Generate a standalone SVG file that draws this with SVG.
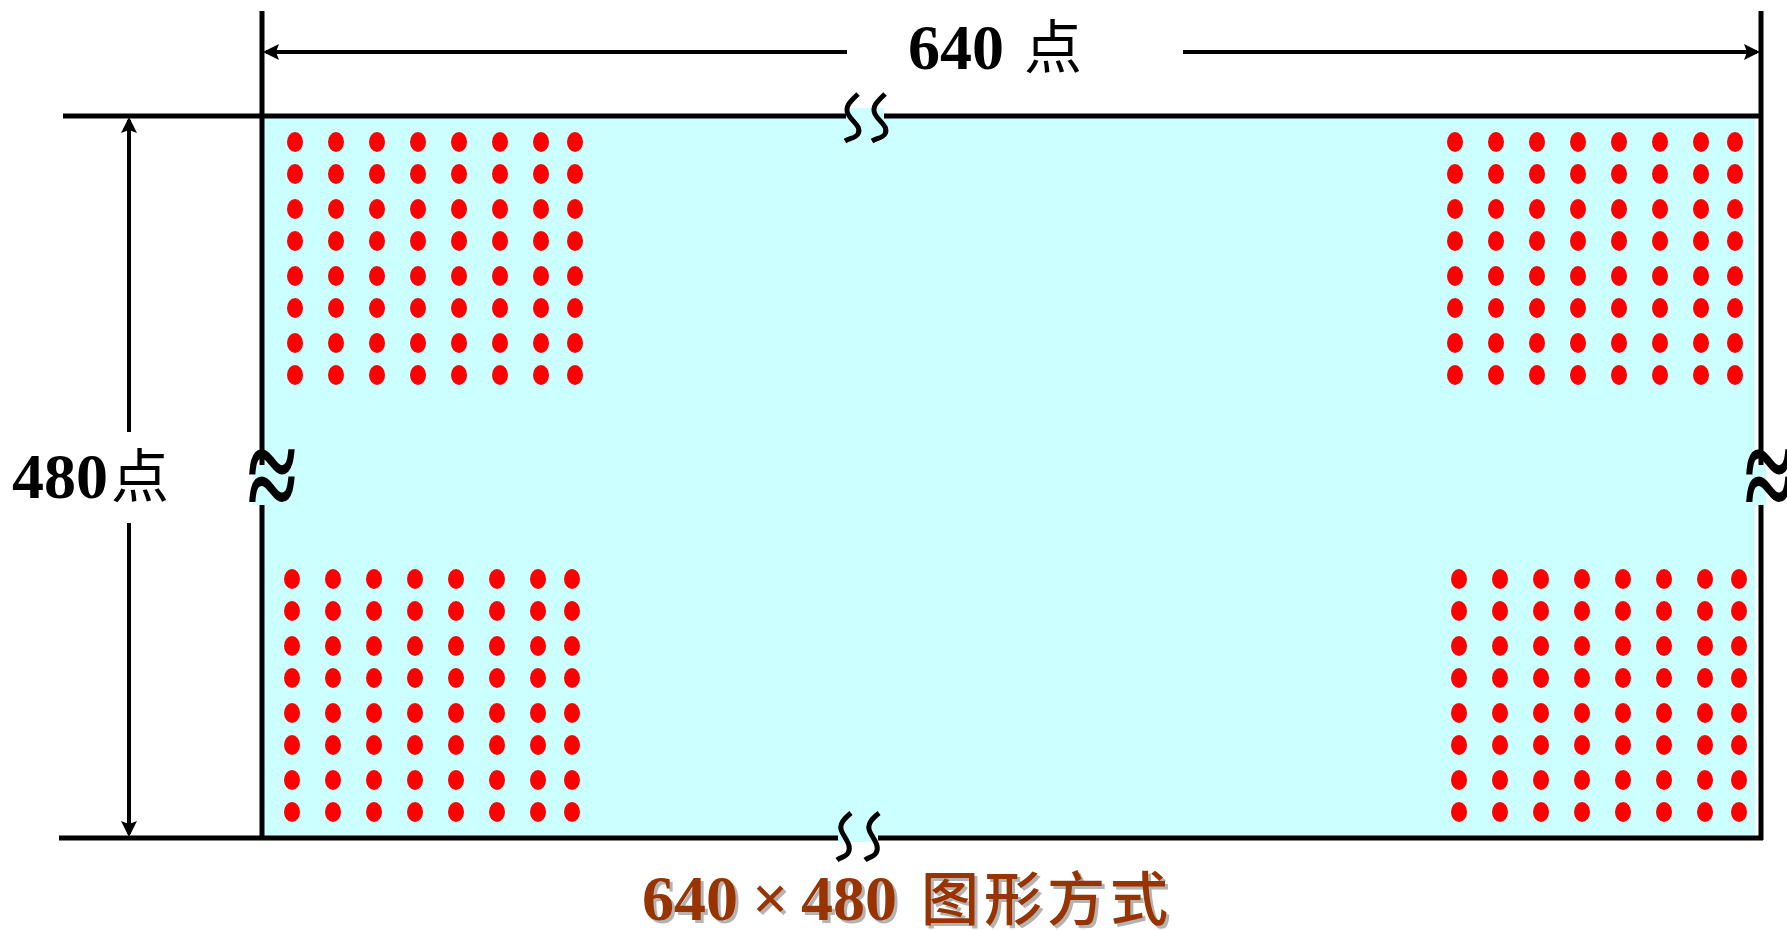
<svg xmlns="http://www.w3.org/2000/svg" xmlns:xlink="http://www.w3.org/1999/xlink" width="1787" height="930" viewBox="0 0 1787 930">
<style>
.ln{stroke:#000;stroke-width:5;fill:none}
.dim{stroke:#000;stroke-width:4;fill:none}
.sq{stroke:#000;stroke-width:5;fill:none;stroke-linecap:butt}
.lbl{font-family:"Liberation Serif","Noto Sans CJK SC",serif;font-weight:bold;font-size:64px;fill:#000}
.cjk{font-family:"Noto Sans CJK SC","Liberation Serif",sans-serif;font-weight:normal;font-size:58px}
.tt{font-family:"Liberation Serif","Noto Sans CJK SC",serif;font-weight:bold;font-size:64px;fill:#993300}
.tc{font-family:"Noto Sans CJK SC","Liberation Serif",sans-serif;font-weight:500;font-size:58px}
.sh{fill:#B3B3B3}
.ap{font-family:"Liberation Serif",serif;font-weight:bold;font-size:90px;fill:#000}
</style>
<defs>
<marker id="ah" viewBox="0 0 16 16" refX="13" refY="8" markerWidth="16" markerHeight="16" markerUnits="userSpaceOnUse" orient="auto"><path d="M0,0 L16,8 L0,16 L3,8 z" fill="#000"/></marker>
<g id="row" fill="#FF0000">
<ellipse cx="0" cy="0" rx="8" ry="10"/><ellipse cx="41" cy="0" rx="8" ry="10"/><ellipse cx="82" cy="0" rx="8" ry="10"/><ellipse cx="123" cy="0" rx="8" ry="10"/><ellipse cx="164" cy="0" rx="8" ry="10"/><ellipse cx="205" cy="0" rx="8" ry="10"/><ellipse cx="246" cy="0" rx="8" ry="10"/><ellipse cx="280" cy="0" rx="8" ry="10"/>
</g>
<g id="blk">
<use href="#row" y="0"/><use href="#row" y="32"/><use href="#row" y="67"/><use href="#row" y="99"/><use href="#row" y="134"/><use href="#row" y="166"/><use href="#row" y="201"/><use href="#row" y="233"/>
</g>
</defs>
<rect width="1787" height="930" fill="#FFFFFF"/>
<g id="screen">
<rect x="264" y="118" width="1491" height="718" fill="#CCFFFF"/>
<line class="ln" x1="262" y1="11" x2="262" y2="840"/>
<line class="ln" x1="1761" y1="11" x2="1761" y2="840"/>
<line class="ln" x1="63" y1="116" x2="1763" y2="116"/>
<line class="ln" x1="59" y1="838" x2="1763" y2="838"/>
</g>
<g id="dots-top-left"><use href="#blk" x="295" y="142"/></g>
<g id="dots-top-right"><use href="#blk" x="1455" y="142"/></g>
<g id="dots-bottom-left"><use href="#blk" x="292" y="579"/></g>
<g id="dots-bottom-right"><use href="#blk" x="1459" y="579"/></g>
<g id="breaks">
<rect x="846" y="108" width="38" height="11" fill="#CCFFFF"/>
<path class="sq" d="M858,94 C852,100 844,106 848,114 C852,122 862,126 858,134 C856,138 850,138 845,141"/>
<path class="sq" d="M885,94 C879,100 871,106 875,114 C879,122 889,126 885,134 C883,138 877,138 872,141"/>
<rect x="838" y="828" width="40" height="14" fill="#CCFFFF"/>
<path class="sq" d="M851,813 C845,818 838,824 842,832 C846,840 852,846 848,853 C846,857 841,857 837,860"/>
<path class="sq" d="M879,813 C873,818 866,824 870,832 C874,840 880,846 876,853 C874,857 869,857 865,860"/>
<rect x="253" y="465" width="42" height="40" fill="#CCFFFF"/>
<text class="ap" text-anchor="middle" transform="translate(272,488) scale(1,1.5)" x="0" y="22">≈</text>
<rect x="1750" y="465" width="16" height="40" fill="#CCFFFF"/>
<text class="ap" text-anchor="middle" transform="translate(1769,488) scale(1,1.5)" x="0" y="22">≈</text>
</g>
<g id="connectors">
<line class="dim" x1="847" y1="52" x2="266" y2="52" marker-end="url(#ah)"/>
<line class="dim" x1="1183" y1="52" x2="1757" y2="52" marker-end="url(#ah)"/>
<line class="dim" x1="129" y1="432" x2="129" y2="120" marker-end="url(#ah)"/>
<line class="dim" x1="129" y1="523" x2="129" y2="834" marker-end="url(#ah)"/>
</g>
<g id="label-width">
<text class="lbl" x="908" y="69">640 <tspan class="cjk" x="1024" y="68">点</tspan></text>
</g>
<g id="label-height">
<text class="lbl" x="12" y="498">480<tspan class="cjk" x="111" y="497">点</tspan></text>
</g>
<g id="title">
<text class="tt sh" x="645" y="923">640<tspan x="755">×</tspan><tspan x="804">480</tspan><tspan class="tc" x="924" letter-spacing="5">图形方式</tspan></text>
<text class="tt" x="642" y="920">640<tspan x="752">×</tspan><tspan x="801">480</tspan><tspan class="tc" x="921" letter-spacing="5">图形方式</tspan></text>
</g>
</svg>
